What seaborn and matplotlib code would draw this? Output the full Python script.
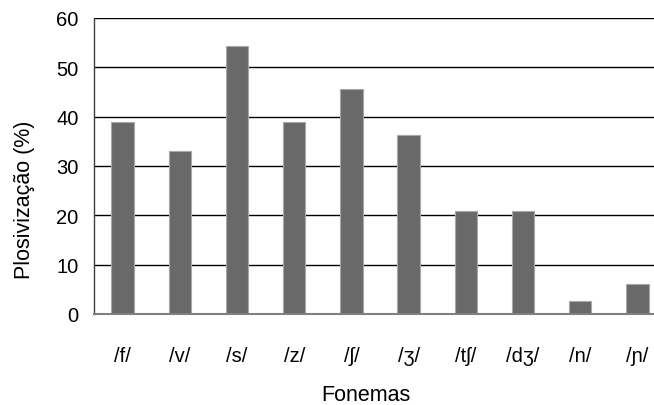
import matplotlib
matplotlib.use("Agg")
import matplotlib.pyplot as plt
import seaborn as sns
import pandas as pd

categories = ["/f/", "/v/", "/s/", "/z/", "/ʃ/", "/ʒ/", "/tʃ/", "/dʒ/", "/n/", "/ɲ/"]
values = [39.0, 33.0, 54.4, 39.0, 45.6, 36.3, 20.9, 20.9, 2.7, 6.1]
yticks = [0, 10, 20, 30, 40, 50, 60]

sns.set_theme(style="white")
plt.rcParams['font.family'] = ['Liberation Sans', 'DejaVu Sans']

df = pd.DataFrame({"Fonemas": categories, "Plosivização (%)": values})

fig = plt.figure(figsize=(6.54, 4.06), dpi=100)
L, B, T = 94, 315, 19
ax = fig.add_axes([L/654, (406-B)/406, (654-L)/654, (B-T)/406])

sns.barplot(data=df, x="Fonemas", y="Plosivização (%)", color="#696969",
            width=0.39, edgecolor="#a8a8a8", linewidth=0.8, saturation=1, ax=ax, zorder=3)

ax.set_xlim(-0.5, -0.5 + (654-L)/57.2)
ax.set_ylim(0, 60)
ax.set_yticks(yticks)
ax.set_yticklabels([str(t) for t in yticks])
ax.yaxis.grid(True, color="black", linewidth=1.0, zorder=0)
ax.set_axisbelow(True)
ax.tick_params(axis='y', length=0, pad=11, labelsize=14.5, colors="black")
ax.tick_params(axis='x', length=0, pad=23, labelsize=14.5, colors="black")

for s in ["top", "right"]:
    ax.spines[s].set_visible(False)
ax.spines["left"].set_color("#404040")
ax.spines["left"].set_linewidth(1.0)
ax.spines["bottom"].set_color("#808080")
ax.spines["bottom"].set_linewidth(1.5)
ax.spines["bottom"].set_zorder(4)

ax.set_xlabel("Fonemas", fontsize=15.5, color="black")
ax.set_ylabel("Plosivização (%)", fontsize=15.5, color="black")
ax.xaxis.set_label_coords((366-L)/(654-L), (B-385)/(B-T))
ax.yaxis.set_label_coords((35-L)/(654-L), (B-199.5)/(B-T))

fig.savefig("out.png", dpi=100)
